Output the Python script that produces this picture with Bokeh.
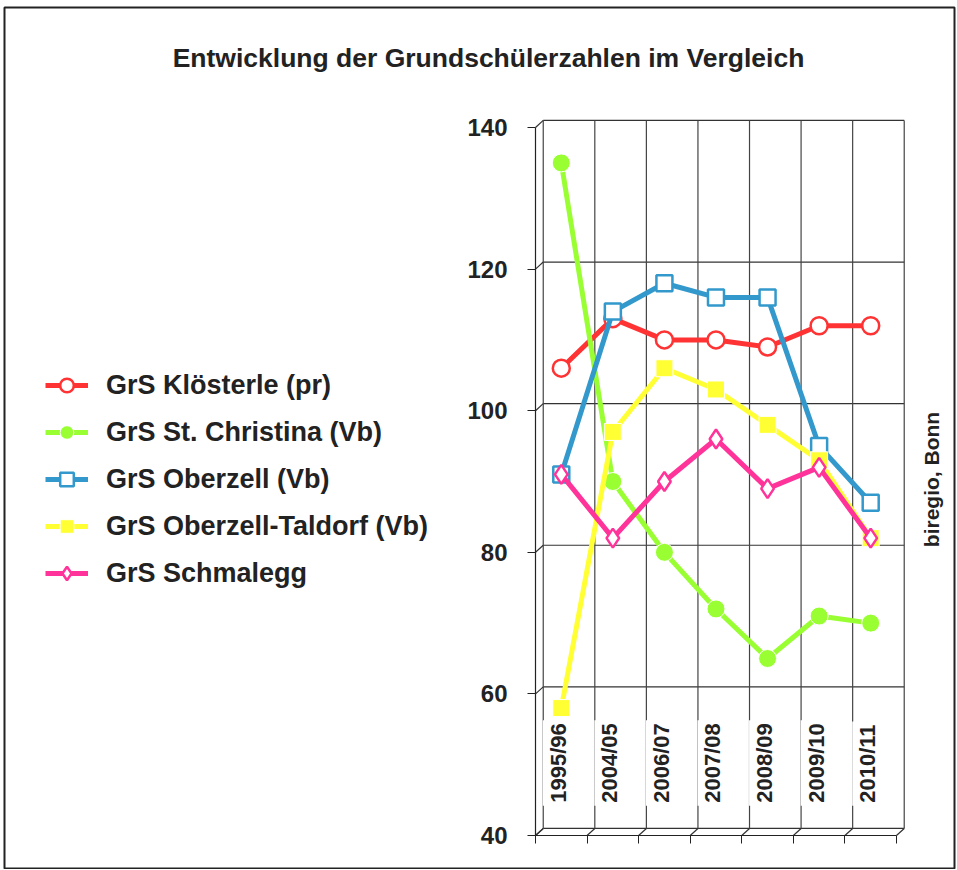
import math
from bokeh.plotting import figure
from bokeh.models import (Range1d, LinearAxis, FixedTicker, Legend, LegendItem,
                          Label, ColumnDataSource)
from bokeh.core.properties import value
from bokeh.embed import file_html
from bokeh.resources import INLINE

# ---------------- data ----------------
years = ["1995/96", "2004/05", "2006/07", "2007/08", "2008/09", "2009/10", "2010/11"]
kloesterle = [106, 113, 110, 110, 109, 112, 112]
christina = [135, 90, 80, 72, 65, 71, 70]
oberzell = [91, 114, 118, 116, 116, 95, 87]
taldorf = [58, 97, 106, 103, 98, 93, 82]
schmalegg = [91, 82, 90, 96, 89, 92, 82]
y_ticks = [40, 60, 80, 100, 120, 140]

names = ["GrS Klösterle (pr)", "GrS St. Christina (Vb)", "GrS Oberzell (Vb)",
         "GrS Oberzell-Taldorf (Vb)", "GrS Schmalegg"]
colors = ["#FF3333", "#99FF33", "#3399CC", "#FFFF33", "#FF3399"]

FONT = "Liberation Sans"
TXT = "#222222"
xs = list(range(len(years)))
n = len(years)
DX, DY = 0.15, 1.0   # pseudo-3D depth offset of the back wall

# the frame spans the whole bordered chart area; the value axis sits inside it
p = figure(width=956, height=869, output_backend="svg", toolbar_location=None,
           x_range=Range1d(-10.797, 7.625), y_range=Range1d(35.2, 156.95),
           min_border_left=4, min_border_right=2, min_border_top=7,
           min_border_bottom=0, x_axis_type=None, y_axis_type=None)
p.outline_line_color = "#222222"
p.outline_line_width = 2
p.xgrid.visible = False
p.ygrid.visible = False
p.background_fill_color = "white"
p.border_fill_color = "white"

# ---------------- back wall grid ----------------
bounds = [i - 0.5 for i in range(n + 1)]
gy = [v + DY for v in y_ticks]
p.segment(x0=[-0.5 + DX] * len(y_ticks), y0=gy, x1=[n - 0.5 + DX] * len(y_ticks),
          y1=gy, line_color="#333333", line_width=1.2)
p.segment(x0=[b + DX for b in bounds], y0=[40 + DY] * len(bounds),
          x1=[b + DX for b in bounds], y1=[140 + DY] * len(bounds),
          line_color="#444444", line_width=1.2)
# depth diagonals (left wall and floor)
p.segment(x0=[-0.5] * len(y_ticks), y0=y_ticks, x1=[-0.5 + DX] * len(y_ticks),
          y1=gy, line_color="#333333", line_width=1.2)
p.segment(x0=bounds, y0=[40] * len(bounds), x1=[b + DX for b in bounds],
          y1=[40 + DY] * len(bounds), line_color="#333333", line_width=1.2)

# ---------------- category labels (inside plot) ----------------
lab_src = ColumnDataSource(dict(x=xs, y=[44.2] * n, t=years))
p.text(x="x", y="y", text="t", source=lab_src, angle=math.pi / 2,
       text_align="left", text_baseline="middle", x_offset=-3,
       text_font=value(FONT), text_font_style="bold",
       text_font_size="22px", text_color=TXT,
       background_fill_color="white", padding=3)

# ---------------- axes ----------------
yax = LinearAxis(ticker=FixedTicker(ticks=y_ticks), bounds=(40, 140),
                 fixed_location=-0.5)
yax.axis_line_color = TXT
yax.axis_line_width = 1.2
yax.major_tick_out = 8
yax.major_tick_in = 0
yax.major_tick_line_color = TXT
yax.minor_tick_line_color = None
yax.major_label_standoff = 20
yax.major_label_text_font = FONT
yax.major_label_text_font_style = "bold"
yax.major_label_text_font_size = "24px"
yax.major_label_text_color = TXT
p.add_layout(yax, "left")

xax = LinearAxis(ticker=FixedTicker(ticks=bounds), bounds=(-0.5, n - 0.5),
                 fixed_location=40)
xax.axis_line_color = TXT
xax.axis_line_width = 1.2
xax.major_tick_out = 8
xax.major_tick_in = 0
xax.major_tick_line_color = TXT
xax.minor_tick_line_color = None
xax.major_label_text_color = None
xax.major_label_text_font_size = "1px"
p.add_layout(xax, "below")

# ---------------- series ----------------
series = [kloesterle, christina, oberzell, taldorf, schmalegg]
markers = ["circle", "circle", "square", "square", "diamond"]
fills = ["white", colors[1], "white", colors[3], "white"]
sizes = [17, 18, 16, 17, 19]
items = []
for vals, nm, col, mk, fc, sz in zip(series, names, colors, markers, fills, sizes):
    src = ColumnDataSource(dict(x=xs, y=vals))
    ln = p.line("x", "y", source=src, line_color=col, line_width=5)
    sc = p.scatter("x", "y", source=src, marker=mk, size=sz, fill_color=fc,
                   line_color=col if fc == "white" else "white",
                   line_width=2.5 if fc == "white" else 1)
    items.append(LegendItem(label=nm, renderers=[ln, sc]))

legend = Legend(items=items, location=(41, 279))
legend.label_text_font = FONT
legend.label_text_font_style = "bold"
legend.label_text_font_size = "27px"
legend.label_text_color = TXT
legend.glyph_width = 43
legend.glyph_height = 34
legend.label_height = 34
legend.label_standoff = 18
legend.spacing = 13
legend.padding = 0
legend.margin = 0
legend.border_line_color = None
legend.background_fill_alpha = 0
p.add_layout(legend, "center")

# ---------------- texts ----------------
title = Label(x=484, y=812, x_units="screen", y_units="screen",
              text="Entwicklung der Grundschülerzahlen im Vergleich",
              text_font=FONT, text_font_style="bold", text_font_size="26.5px",
              text_color=TXT, text_align="center", text_baseline="middle")
p.add_layout(title)
credit = Label(x=927, y=390, x_units="screen", y_units="screen",
               text="biregio, Bonn", angle=math.pi / 2,
               text_font=FONT, text_font_style="bold", text_font_size="21px",
               text_color=TXT, text_align="center", text_baseline="middle")
p.add_layout(credit)

open("out.html", "w").write(file_html(p, INLINE))
